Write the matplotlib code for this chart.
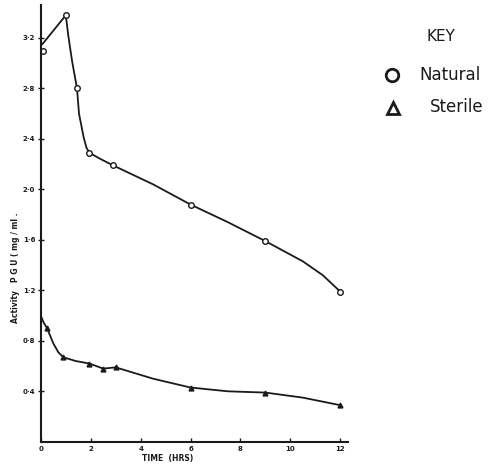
import matplotlib
matplotlib.use('Agg')
import matplotlib.pyplot as plt

# natural soil: measured points (markers) and the drawn curve
natural_t = [0.1, 1.0, 1.45, 1.95, 2.9, 6.0, 9.0, 12.0]
natural_v = [3.10, 3.38, 2.80, 2.29, 2.19, 1.88, 1.59, 1.19]
natural_curve_t = [0.0, 0.1, 1.0, 1.1, 1.25, 1.45, 1.53, 1.63, 1.72, 1.83, 1.95, 2.4, 2.9,
                   4.5, 6.0, 7.5, 9.0, 10.5, 11.3, 12.0]
natural_curve_v = [3.14, 3.16, 3.38, 3.22, 3.02, 2.80, 2.60, 2.50, 2.41, 2.33, 2.29, 2.24, 2.19,
                   2.04, 1.88, 1.74, 1.59, 1.43, 1.32, 1.19]

# sterile soil
sterile_t = [0.25, 0.9, 1.95, 2.5, 3.0, 6.0, 9.0, 12.0]
sterile_v = [0.90, 0.67, 0.62, 0.58, 0.59, 0.43, 0.39, 0.29]
sterile_curve_t = [0.0, 0.1, 0.25, 0.5, 0.7, 0.9, 1.4, 1.95, 2.5, 3.0, 4.5, 6.0, 7.5, 9.0,
                   10.5, 12.0]
sterile_curve_v = [1.00, 0.95, 0.90, 0.78, 0.71, 0.67, 0.64, 0.62, 0.58, 0.59, 0.50, 0.43,
                   0.40, 0.39, 0.35, 0.29]

xticks = [0, 2, 4, 6, 8, 10, 12]
yticks = [0.4, 0.8, 1.2, 1.6, 2.0, 2.4, 2.8, 3.2]
ylabels = ['0·4', '0·8', '1·2', '1·6', '2·0', '2·4', '2·8', '3·2']

ink = '#1a1a1a'

fig = plt.figure(figsize=(5.04, 4.70), dpi=100)
ax = fig.add_axes([0.081, 0.060, 0.609, 0.929])

ax.plot(natural_curve_t, natural_curve_v, color=ink, lw=1.3)
ax.plot(natural_t, natural_v, 'o', ms=4, mfc='white', mec=ink, mew=1.0)
ax.plot(sterile_curve_t, sterile_curve_v, color=ink, lw=1.3)
ax.plot(sterile_t, sterile_v, '^', ms=3.5, color=ink)

ax.set_xlim(0, 12.3)
ax.set_ylim(0, 3.46)
ax.set_xticks(xticks)
ax.set_xticklabels([str(x) for x in xticks], fontsize=5, fontweight='bold')
ax.set_yticks(yticks)
ax.set_yticklabels(ylabels, fontsize=5, fontweight='bold')
ax.tick_params(axis='x', direction='in', length=3, width=1, pad=3, colors=ink)
ax.tick_params(axis='y', direction='inout', length=4, width=1, pad=2, colors=ink)

for s in ['top', 'right']:
    ax.spines[s].set_visible(False)
for s in ['left', 'bottom']:
    ax.spines[s].set_linewidth(1.5)
    ax.spines[s].set_color(ink)

fig.text(0.333, 0.015, 'TIME  (HRS)', fontsize=5.5, fontweight='bold', ha='center', va='bottom', color=ink)
fig.text(0.03, 0.43, 'Activity   P G U ( mg / ml .', fontsize=5.5, fontweight='bold',
         rotation=90, ha='center', va='center', color=ink)

# key
fig.text(0.875, 0.922, 'KEY', fontsize=11, ha='center', va='center', color=ink)
fig.text(0.833, 0.840, 'Natural', fontsize=12, ha='left', va='center', color=ink)
fig.text(0.853, 0.772, 'Sterile', fontsize=12, ha='left', va='center', color=ink)
fig.lines.append(plt.Line2D([0.778], [0.840], marker='o', ms=9, mfc='white', mec=ink, mew=2,
                            transform=fig.transFigure, figure=fig))
fig.lines.append(plt.Line2D([0.780], [0.770], marker='^', ms=8, mfc='white', mec=ink, mew=2,
                            transform=fig.transFigure, figure=fig))

fig.savefig('out.png', dpi=100)
